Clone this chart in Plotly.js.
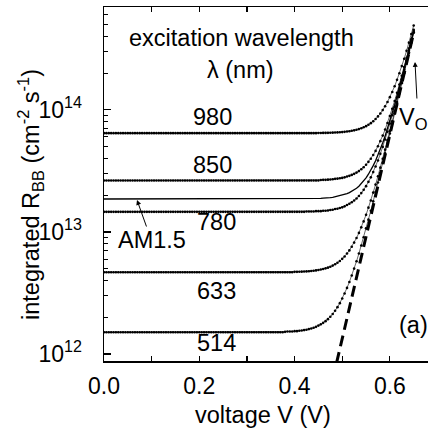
<!DOCTYPE html>
<html>
<head>
<meta charset="utf-8">
<script src="https://cdn.plot.ly/plotly-3.0.1.min.js"></script>
<style>html,body{margin:0;padding:0;background:#fff;}#chart{width:428px;height:430px;}</style>
</head>
<body>
<div id="chart"></div>
<script>
// Voltage grid (V)
const voltage = [
0.000,0.005,0.010,0.015,0.020,0.025,0.030,0.035,0.040,0.045,
0.050,0.055,0.060,0.065,0.070,0.075,0.080,0.085,0.090,0.095,
0.100,0.105,0.110,0.115,0.120,0.125,0.130,0.135,0.140,0.145,
0.150,0.155,0.160,0.165,0.170,0.175,0.180,0.185,0.190,0.195,
0.200,0.205,0.210,0.215,0.220,0.225,0.230,0.235,0.240,0.245,
0.250,0.255,0.260,0.265,0.270,0.275,0.280,0.285,0.290,0.295,
0.300,0.305,0.310,0.315,0.320,0.325,0.330,0.335,0.340,0.345,
0.350,0.355,0.360,0.365,0.370,0.375,0.380,0.385,0.390,0.395,
0.400,0.405,0.410,0.415,0.420,0.425,0.430,0.435,0.440,0.445,
0.450,0.455,0.460,0.465,0.470,0.475,0.480,0.485,0.490,0.495,
0.500,0.505,0.510,0.515,0.520,0.525,0.530,0.535,0.540,0.545,
0.550,0.555,0.560,0.565,0.570,0.575,0.580,0.585,0.590,0.595,
0.600,0.605,0.610,0.615,0.620,0.625,0.630,0.635,0.640,0.645,
0.650];

const r514 = [
1.51e12,1.51e12,1.51e12,1.51e12,1.51e12,1.51e12,1.51e12,1.51e12,1.51e12,1.51e12,
1.51e12,1.51e12,1.51e12,1.51e12,1.51e12,1.51e12,1.51e12,1.51e12,1.51e12,1.51e12,
1.51e12,1.51e12,1.51e12,1.51e12,1.51e12,1.51e12,1.51e12,1.51e12,1.51e12,1.51e12,
1.51e12,1.51e12,1.51e12,1.51e12,1.51e12,1.51e12,1.51e12,1.51e12,1.51e12,1.51e12,
1.51e12,1.51e12,1.51e12,1.51e12,1.51e12,1.51e12,1.51e12,1.51e12,1.51e12,1.51e12,
1.51e12,1.51e12,1.51e12,1.51e12,1.51e12,1.51e12,1.51e12,1.51e12,1.51e12,1.51e12,
1.51e12,1.51e12,1.51e12,1.51e12,1.51e12,1.51e12,1.51e12,1.51e12,1.51e12,1.51e12,
1.51e12,1.51e12,1.51e12,1.51e12,1.51e12,1.51e12,1.52e12,1.53e12,1.53e12,1.53e12,
1.54e12,1.54e12,1.55e12,1.56e12,1.57e12,1.58e12,1.60e12,1.62e12,1.64e12,1.67e12,
1.71e12,1.75e12,1.80e12,1.86e12,1.93e12,2.02e12,2.13e12,2.26e12,2.42e12,2.61e12,
2.85e12,3.13e12,3.48e12,3.89e12,4.40e12,5.01e12,5.75e12,6.65e12,7.74e12,9.05e12,
1.07e13,1.26e13,1.49e13,1.78e13,2.12e13,2.54e13,3.05e13,3.66e13,4.41e13,5.31e13,
6.40e13,7.72e13,9.33e13,1.13e14,1.36e14,1.65e14,1.99e14,2.41e14,2.92e14,3.54e14,
4.28e14];

const r633 = [
4.68e12,4.68e12,4.68e12,4.68e12,4.68e12,4.68e12,4.68e12,4.68e12,4.68e12,4.68e12,
4.68e12,4.68e12,4.68e12,4.68e12,4.68e12,4.68e12,4.68e12,4.68e12,4.68e12,4.68e12,
4.68e12,4.68e12,4.68e12,4.68e12,4.68e12,4.68e12,4.68e12,4.68e12,4.68e12,4.68e12,
4.68e12,4.68e12,4.68e12,4.68e12,4.68e12,4.68e12,4.68e12,4.68e12,4.68e12,4.68e12,
4.68e12,4.68e12,4.68e12,4.68e12,4.68e12,4.68e12,4.68e12,4.68e12,4.68e12,4.68e12,
4.68e12,4.68e12,4.68e12,4.68e12,4.68e12,4.68e12,4.68e12,4.68e12,4.68e12,4.68e12,
4.68e12,4.68e12,4.68e12,4.68e12,4.68e12,4.68e12,4.68e12,4.68e12,4.68e12,4.68e12,
4.68e12,4.68e12,4.68e12,4.68e12,4.68e12,4.68e12,4.68e12,4.68e12,4.68e12,4.68e12,
4.71e12,4.71e12,4.72e12,4.73e12,4.74e12,4.75e12,4.77e12,4.79e12,4.81e12,4.84e12,
4.88e12,4.92e12,4.97e12,5.03e12,5.10e12,5.19e12,5.30e12,5.43e12,5.59e12,5.78e12,
6.02e12,6.30e12,6.65e12,7.06e12,7.57e12,8.18e12,8.92e12,9.82e12,1.09e13,1.22e13,
1.38e13,1.58e13,1.81e13,2.10e13,2.44e13,2.86e13,3.36e13,3.98e13,4.72e13,5.62e13,
6.72e13,8.04e13,9.64e13,1.16e14,1.39e14,1.68e14,2.03e14,2.44e14,2.95e14,3.57e14,
4.32e14];

const r780 = [
1.46e13,1.46e13,1.46e13,1.46e13,1.46e13,1.46e13,1.46e13,1.46e13,1.46e13,1.46e13,
1.46e13,1.46e13,1.46e13,1.46e13,1.46e13,1.46e13,1.46e13,1.46e13,1.46e13,1.46e13,
1.46e13,1.46e13,1.46e13,1.46e13,1.46e13,1.46e13,1.46e13,1.46e13,1.46e13,1.46e13,
1.46e13,1.46e13,1.46e13,1.46e13,1.46e13,1.46e13,1.46e13,1.46e13,1.46e13,1.46e13,
1.46e13,1.46e13,1.46e13,1.46e13,1.46e13,1.46e13,1.46e13,1.46e13,1.46e13,1.46e13,
1.46e13,1.46e13,1.46e13,1.46e13,1.46e13,1.46e13,1.46e13,1.46e13,1.46e13,1.46e13,
1.46e13,1.46e13,1.46e13,1.46e13,1.46e13,1.46e13,1.46e13,1.46e13,1.46e13,1.46e13,
1.46e13,1.46e13,1.46e13,1.46e13,1.46e13,1.46e13,1.46e13,1.46e13,1.46e13,1.46e13,
1.46e13,1.46e13,1.46e13,1.46e13,1.46e13,1.47e13,1.47e13,1.47e13,1.47e13,1.48e13,
1.48e13,1.48e13,1.49e13,1.49e13,1.50e13,1.51e13,1.52e13,1.54e13,1.55e13,1.57e13,
1.59e13,1.62e13,1.66e13,1.70e13,1.75e13,1.81e13,1.88e13,1.97e13,2.08e13,2.21e13,
2.37e13,2.57e13,2.80e13,3.09e13,3.43e13,3.85e13,4.36e13,4.97e13,5.71e13,6.62e13,
7.71e13,9.03e13,1.06e14,1.26e14,1.49e14,1.78e14,2.13e14,2.54e14,3.05e14,3.67e14,
4.42e14];

const rAM15 = [
1.86e13,1.86e13,1.86e13,1.86e13,1.86e13,1.86e13,1.86e13,1.86e13,1.86e13,1.86e13,
1.86e13,1.86e13,1.86e13,1.86e13,1.86e13,1.86e13,1.86e13,1.86e13,1.86e13,1.86e13,
1.86e13,1.86e13,1.86e13,1.86e13,1.86e13,1.86e13,1.86e13,1.86e13,1.86e13,1.86e13,
1.86e13,1.86e13,1.86e13,1.86e13,1.86e13,1.86e13,1.86e13,1.86e13,1.86e13,1.86e13,
1.86e13,1.86e13,1.86e13,1.86e13,1.86e13,1.86e13,1.86e13,1.86e13,1.86e13,1.86e13,
1.86e13,1.86e13,1.86e13,1.86e13,1.86e13,1.86e13,1.86e13,1.86e13,1.86e13,1.86e13,
1.86e13,1.86e13,1.86e13,1.86e13,1.86e13,1.86e13,1.86e13,1.86e13,1.86e13,1.86e13,
1.86e13,1.86e13,1.86e13,1.86e13,1.86e13,1.86e13,1.86e13,1.86e13,1.86e13,1.86e13,
1.86e13,1.86e13,1.86e13,1.86e13,1.86e13,1.86e13,1.86e13,1.86e13,1.86e13,1.88e13,
1.88e13,1.88e13,1.89e13,1.89e13,1.90e13,1.91e13,1.92e13,1.94e13,1.95e13,1.97e13,
1.99e13,2.02e13,2.06e13,2.10e13,2.15e13,2.21e13,2.28e13,2.37e13,2.48e13,2.61e13,
2.77e13,2.97e13,3.20e13,3.49e13,3.83e13,4.25e13,4.76e13,5.37e13,6.11e13,7.02e13,
8.11e13,9.43e13,1.10e14,1.30e14,1.53e14,1.82e14,2.17e14,2.58e14,3.09e14,3.71e14,
4.46e14];

const r850 = [
2.64e13,2.64e13,2.64e13,2.64e13,2.64e13,2.64e13,2.64e13,2.64e13,2.64e13,2.64e13,
2.64e13,2.64e13,2.64e13,2.64e13,2.64e13,2.64e13,2.64e13,2.64e13,2.64e13,2.64e13,
2.64e13,2.64e13,2.64e13,2.64e13,2.64e13,2.64e13,2.64e13,2.64e13,2.64e13,2.64e13,
2.64e13,2.64e13,2.64e13,2.64e13,2.64e13,2.64e13,2.64e13,2.64e13,2.64e13,2.64e13,
2.64e13,2.64e13,2.64e13,2.64e13,2.64e13,2.64e13,2.64e13,2.64e13,2.64e13,2.64e13,
2.64e13,2.64e13,2.64e13,2.64e13,2.64e13,2.64e13,2.64e13,2.64e13,2.64e13,2.64e13,
2.64e13,2.64e13,2.64e13,2.64e13,2.64e13,2.64e13,2.64e13,2.64e13,2.64e13,2.64e13,
2.64e13,2.64e13,2.64e13,2.64e13,2.64e13,2.64e13,2.64e13,2.64e13,2.64e13,2.64e13,
2.64e13,2.64e13,2.64e13,2.64e13,2.64e13,2.64e13,2.64e13,2.64e13,2.64e13,2.64e13,
2.64e13,2.66e13,2.67e13,2.67e13,2.68e13,2.69e13,2.70e13,2.72e13,2.73e13,2.75e13,
2.77e13,2.80e13,2.84e13,2.88e13,2.93e13,2.99e13,3.06e13,3.15e13,3.26e13,3.39e13,
3.55e13,3.75e13,3.98e13,4.27e13,4.61e13,5.03e13,5.54e13,6.15e13,6.89e13,7.80e13,
8.89e13,1.02e14,1.18e14,1.38e14,1.61e14,1.90e14,2.24e14,2.66e14,3.17e14,3.79e14,
4.53e14];

const r980 = [
6.44e13,6.44e13,6.44e13,6.44e13,6.44e13,6.44e13,6.44e13,6.44e13,6.44e13,6.44e13,
6.44e13,6.44e13,6.44e13,6.44e13,6.44e13,6.44e13,6.44e13,6.44e13,6.44e13,6.44e13,
6.44e13,6.44e13,6.44e13,6.44e13,6.44e13,6.44e13,6.44e13,6.44e13,6.44e13,6.44e13,
6.44e13,6.44e13,6.44e13,6.44e13,6.44e13,6.44e13,6.44e13,6.44e13,6.44e13,6.44e13,
6.44e13,6.44e13,6.44e13,6.44e13,6.44e13,6.44e13,6.44e13,6.44e13,6.44e13,6.44e13,
6.44e13,6.44e13,6.44e13,6.44e13,6.44e13,6.44e13,6.44e13,6.44e13,6.44e13,6.44e13,
6.44e13,6.44e13,6.44e13,6.44e13,6.44e13,6.44e13,6.44e13,6.44e13,6.44e13,6.44e13,
6.44e13,6.44e13,6.44e13,6.44e13,6.44e13,6.44e13,6.44e13,6.44e13,6.44e13,6.44e13,
6.44e13,6.44e13,6.44e13,6.44e13,6.44e13,6.44e13,6.44e13,6.44e13,6.44e13,6.44e13,
6.46e13,6.46e13,6.47e13,6.47e13,6.48e13,6.49e13,6.50e13,6.52e13,6.53e13,6.55e13,
6.57e13,6.60e13,6.64e13,6.68e13,6.73e13,6.79e13,6.86e13,6.95e13,7.06e13,7.19e13,
7.35e13,7.55e13,7.78e13,8.07e13,8.41e13,8.83e13,9.34e13,9.95e13,1.07e14,1.16e14,
1.27e14,1.40e14,1.56e14,1.76e14,1.99e14,2.28e14,2.62e14,3.04e14,3.55e14,4.17e14,
4.91e14];

// Dark (dashed) line end points
const darkV = [0.48, 0.65];
const darkR = [6.2e11, 4.29e14];

// Tick labels
const xTickVals = [0, 0.1, 0.2, 0.3, 0.4, 0.5, 0.6];
const xTickText = ['0.0', '', '0.2', '', '0.4', '', '0.6'];
const yTickVals = [1e12, 1e13, 1e14];
const yTickText = ['10<sup>12</sup>', '10<sup>13</sup>', '10<sup>14</sup>'];
const yMinorVals = [2e12,3e12,4e12,5e12,6e12,7e12,8e12,9e12,
                    2e13,3e13,4e13,5e13,6e13,7e13,8e13,9e13,
                    2e14,3e14,4e14,5e14,6e14,7e14];

const seriesLabels = ['980', '850', '780', '633', '514'];

const FONT = 'Liberation Sans, Arial, sans-serif';

function dotted(y, name) {
  return {x: voltage, y: y, name: name, type: 'scatter', mode: 'lines+markers',
    line: {color: '#000', width: 0.6}, marker: {color: '#000', size: 2.6}};
}

const traces = [
  {x: darkV, y: darkR, type: 'scatter', mode: 'lines', name: 'dark',
   line: {color: '#000', width: 3, dash: '11px,6px'}},
  dotted(r514, '514'),
  dotted(r633, '633'),
  dotted(r780, '780'),
  {x: voltage, y: rAM15, type: 'scatter', mode: 'lines', name: 'AM1.5',
   line: {color: '#000', width: 1.3}},
  dotted(r850, '850'),
  dotted(r980, '980')
];

const L = 104, T = 7, W = 324, H = 354;
function px(x) { return (x - L) / W; }
function py(y) { return (T + H - y) / H; }

const labelPos = {
  '980': [212, 117], '850': [212, 165], '780': [216, 222], '633': [216, 291], '514': [216, 343]
};

const annotations = [
  {text: 'excitation wavelength', x: px(241), y: py(38)},
  {text: 'λ (nm)', x: px(240), y: py(70)},
  {text: 'AM1.5', x: px(152), y: py(240)},
  {text: 'V<sub>O</sub>', x: px(413), y: py(119)},
  {text: '(a)', x: px(413), y: py(325)},
  {text: 'voltage V (V)', x: px(263), y: py(415)},
  {text: 'integrated R<sub>BB</sub> (cm<sup>-2</sup> s<sup>-1</sup>)', x: px(30), y: py(195), textangle: -90}
].concat(seriesLabels.map(s => ({text: s, x: px(labelPos[s][0]), y: py(labelPos[s][1])})))
 .map(a => Object.assign({xref: 'paper', yref: 'paper', showarrow: false,
   xanchor: 'center', yanchor: 'middle', font: {family: FONT, size: 23.5, color: '#000'}}, a));

annotations.push({xref: 'paper', yref: 'paper', x: px(137), y: py(200), ax: 10, ay: 28,
  text: '', showarrow: true, arrowhead: 2, arrowsize: 1, arrowwidth: 1, arrowcolor: '#000'});
annotations.push({xref: 'paper', yref: 'paper', x: px(415), y: py(62), ax: 2, ay: 38,
  text: '', showarrow: true, arrowhead: 2, arrowsize: 1, arrowwidth: 1, arrowcolor: '#000'});

const layout = {
  width: 428, height: 430,
  margin: {l: L, r: 428 - L - W, t: T, b: 430 - T - H, pad: 0},
  paper_bgcolor: '#fff', plot_bgcolor: '#fff',
  showlegend: false,
  font: {family: FONT, size: 23, color: '#000'},
  xaxis: {
    range: [0, 0.68], showgrid: false, zeroline: false,
    showline: true, linecolor: '#000', linewidth: 1.5, mirror: 'ticks',
    ticks: 'inside', ticklen: 5, tickwidth: 1.2, tickcolor: '#000',
    tickmode: 'array', tickvals: xTickVals, ticktext: xTickText,
    tickfont: {family: FONT, size: 23, color: '#000'}, ticklabelstandoff: 4
  },
  yaxis: {
    type: 'log', range: [11.943, 14.842], showgrid: false, zeroline: false,
    showline: true, linecolor: '#000', linewidth: 1.5,
    ticks: 'inside', ticklen: 7, tickwidth: 1.2, tickcolor: '#000',
    tickmode: 'array', tickvals: yTickVals, ticktext: yTickText,
    tickfont: {family: FONT, size: 23, color: '#000'}, ticklabelstandoff: 16,
    minor: {tickmode: 'array', tickvals: yMinorVals, ticks: 'inside', ticklen: 4,
            tickwidth: 1, tickcolor: '#000', showgrid: false}
  },
  annotations: annotations
};

Plotly.newPlot('chart', traces, layout, {staticPlot: true, displayModeBar: false});
</script>
</body>
</html>
